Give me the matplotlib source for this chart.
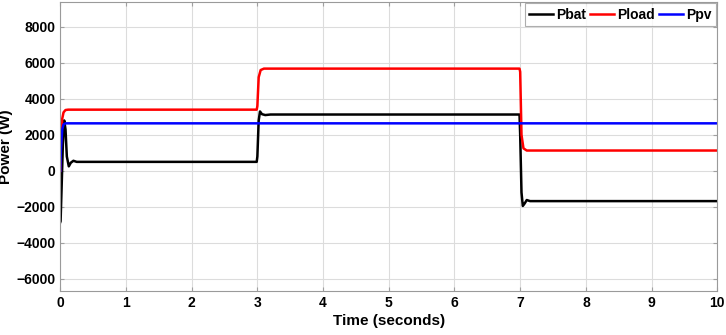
import matplotlib
matplotlib.use("Agg")
import matplotlib.pyplot as plt

plt.rcParams["font.family"] = ["Liberation Sans", "DejaVu Sans"]
plt.rcParams["font.weight"] = "bold"

# Battery power (W)
t_bat = [0.0, 0.005, 0.02, 0.04, 0.06, 0.08, 0.10, 0.13, 0.16, 0.20, 0.25,
         2.99, 3.00, 3.02, 3.04, 3.07, 3.12, 3.2,
         6.99, 7.00, 7.02, 7.04, 7.07, 7.10, 7.15, 10.0]
p_bat = [-2850, -2800, -1000, 1500, 2800, 2300, 800, 250, 450, 560, 500,
         500, 800, 2800, 3300, 3150, 3100, 3130,
         3130, 2000, -1200, -1950, -1800, -1620, -1680, -1680]

# Load power (W)
t_load = [0.0, 0.01, 0.03, 0.05, 0.08, 0.12, 2.99, 3.00, 3.02, 3.05, 3.10,
          6.99, 7.00, 7.02, 7.05, 7.10, 10.0]
p_load = [0, 1500, 2900, 3250, 3380, 3400, 3400, 3600, 5200, 5600, 5680,
          5680, 5500, 2000, 1250, 1130, 1130]

# PV power (W)
t_pv = [0.0, 0.01, 0.03, 0.05, 0.08, 10.0]
p_pv = [0, 1200, 2300, 2580, 2640, 2640]

fig = plt.figure(figsize=(7.26, 3.35), dpi=100)
ax = fig.add_axes([0.083, 0.131, 0.905, 0.863])

ax.plot(t_bat, p_bat, color="black", lw=1.8, label="Pbat")
ax.plot(t_load, p_load, color="#ff0000", lw=1.8, label="Pload")
ax.plot(t_pv, p_pv, color="#0000ff", lw=1.8, label="Ppv")

ax.set_xlim(0, 10)
ax.set_ylim(-6680, 9380)
ax.set_xticks(range(0, 11))
ax.set_yticks(range(-6000, 8001, 2000))
ax.grid(True, color="#dcdcdc", lw=0.8)
ax.set_axisbelow(True)
ax.tick_params(direction="in", labelsize=10, length=3, color="#a0a0a0",
               top=True, right=True)
for s in ax.spines.values():
    s.set_color("#9a9a9a")
    s.set_linewidth(0.8)

ax.set_xlabel("Time (seconds)", fontsize=11, fontweight="bold", labelpad=3)
ax.set_ylabel("Power (W)", fontsize=11, fontweight="bold", labelpad=2)

leg = ax.legend(loc="upper right", ncol=3, fontsize=10, frameon=True,
                fancybox=False, borderaxespad=0.1, handlelength=1.75,
                handletextpad=0.2, columnspacing=0.3, borderpad=0.3)
leg.get_frame().set_edgecolor("#9a9a9a")
leg.get_frame().set_linewidth(0.8)
for txt in leg.get_texts():
    txt.set_fontweight("bold")

fig.savefig("out.png", dpi=100)
